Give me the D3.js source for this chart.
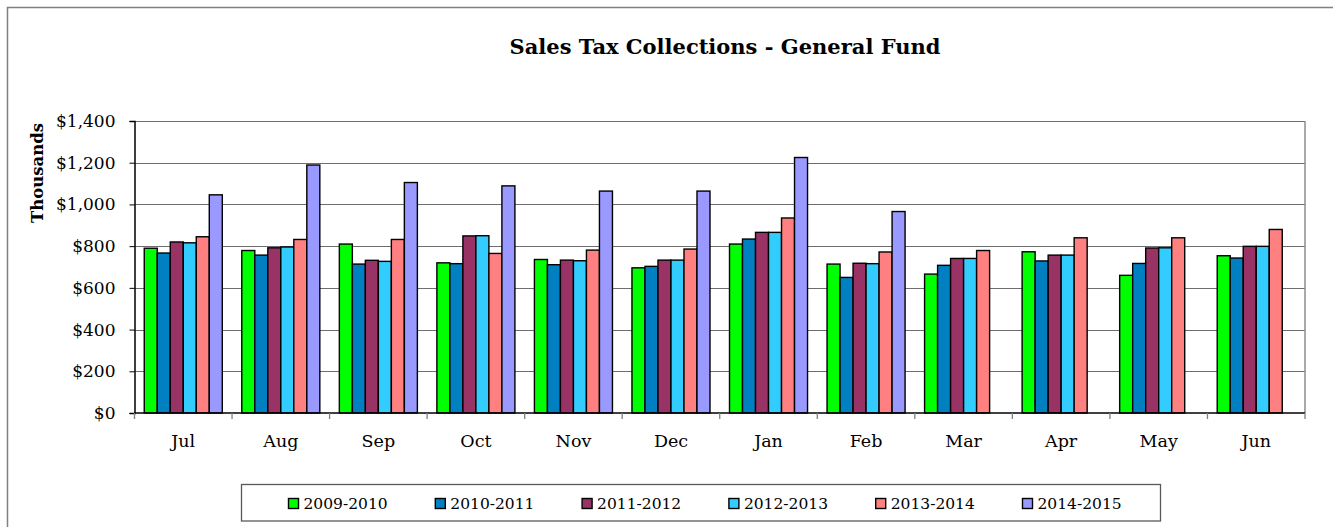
<!DOCTYPE html>
<html>
<head>
<meta charset="utf-8">
<script src="https://cdn.jsdelivr.net/npm/d3@7"></script>
<style>
  html, body { margin: 0; padding: 0; background: #fff; }
  svg { display: block; }
  text { font-family: "DejaVu Serif", "Liberation Serif", serif; fill: #000; }
</style>
</head>
<body>
<svg id="chart" width="1333" height="527"></svg>
<script>
const months = ["Jul","Aug","Sep","Oct","Nov","Dec","Jan","Feb","Mar","Apr","May","Jun"];
const seriesNames = ["2009-2010","2010-2011","2011-2012","2012-2013","2013-2014","2014-2015"];
const s2009 = [790,779,810,720,736,696,810,714,666,773,660,754];
const s2010 = [767,757,714,716,711,703,834,650,708,729,717,743];
const s2011 = [820,792,732,849,733,733,866,718,741,757,791,799];
const s2012 = [816,796,727,850,730,733,866,716,741,757,792,799];
const s2013 = [845,832,832,765,781,786,935,772,779,840,840,880];
const s2014 = [1046,1189,1105,1089,1064,1064,1225,966,null,null,null,null];
const yTicks = [0,200,400,600,800,1000,1200,1400];
const colors = ["#00FF00","#0080C0","#993366","#33CCFF","#FF8080","#9999FF"];

const seriesValues = [s2009,s2010,s2011,s2012,s2013,s2014];
const svg = d3.select("#chart");

// outer frame (left and top visible)
svg.append("path")
  .attr("d","M7.5,527 L7.5,7.5 L1333,7.5")
  .attr("fill","none").attr("stroke","#808080").attr("stroke-width",1.5);

const plot = {left:134.5, right:1305, top:121, bottom:413};

const x = d3.scaleBand().domain(months).range([plot.left, plot.right]).padding(0);
const xi = d3.scaleBand().domain(seriesNames).range([0, x.bandwidth()]).paddingInner(0).paddingOuter(0.75);
const y = d3.scaleLinear().domain([0,1400]).range([plot.bottom, plot.top]);

// gridlines
svg.append("g").selectAll("line").data(yTicks.filter(d=>d>0)).join("line")
  .attr("x1", plot.left).attr("x2", plot.right)
  .attr("y1", d=>Math.round(y(d))+0.5).attr("y2", d=>Math.round(y(d))+0.5)
  .attr("stroke","#6e6e6e").attr("stroke-width",1.2);

// right border of plot area
svg.append("line")
  .attr("x1", plot.right).attr("x2", plot.right)
  .attr("y1", plot.top).attr("y2", plot.bottom)
  .attr("stroke","#8c8c8c").attr("stroke-width",1.5);

// bars
const data = [];
months.forEach((m,i)=>{
  seriesNames.forEach((s,j)=>{
    const v = seriesValues[j][i];
    if (v != null) data.push({m, s, v, j});
  });
});
svg.append("g").selectAll("rect").data(data).join("rect")
  .attr("x", d=>x(d.m)+xi(d.s))
  .attr("width", xi.bandwidth())
  .attr("y", d=>y(d.v))
  .attr("height", d=>y(0)-y(d.v))
  .attr("fill", d=>colors[d.j])
  .attr("stroke","#000").attr("stroke-width",1.4);

// y axis
const yAxis = d3.axisLeft(y).tickValues(yTicks).tickSize(5).tickPadding(14)
  .tickFormat(d=>"$"+d3.format(",")(d));
const gy = svg.append("g").attr("transform",`translate(${plot.left},0)`).call(yAxis);
gy.select(".domain").attr("stroke","#000").attr("stroke-width",1.5);
gy.selectAll(".tick line").attr("stroke","#000");
gy.selectAll(".tick text").attr("font-size",17).attr("font-family","DejaVu Serif").attr("fill","#000");

// x axis
const gx = svg.append("g").attr("transform",`translate(0,${plot.bottom})`);
gx.append("line").attr("x1",plot.left).attr("x2",plot.right).attr("y1",0).attr("y2",0)
  .attr("stroke","#000").attr("stroke-width",1.5);
const bounds = months.map(m=>x(m)).concat([plot.right]);
gx.selectAll("line.t").data(bounds).join("line").attr("class","t")
  .attr("x1",d=>d).attr("x2",d=>d).attr("y1",0).attr("y2",6)
  .attr("stroke","#808080").attr("stroke-width",1.3);
gx.selectAll("text").data(months).join("text")
  .attr("x", d=>x(d)+x.bandwidth()/2)
  .attr("y", 34)
  .attr("text-anchor","middle")
  .attr("font-size",17.5)
  .text(d=>d);

// y axis title
svg.append("text")
  .attr("transform","translate(43,173) rotate(-90)")
  .attr("text-anchor","middle")
  .attr("font-weight","bold")
  .attr("font-size",16.5)
  .text("Thousands");

// title
svg.append("text")
  .attr("x",725).attr("y",54)
  .attr("text-anchor","middle")
  .attr("font-weight","bold")
  .attr("font-size",21)
  .text("Sales Tax Collections - General Fund");

// legend
svg.append("rect")
  .attr("x",241.5).attr("y",484.5).attr("width",919).attr("height",36.5)
  .attr("fill","#fff").attr("stroke","#595959").attr("stroke-width",1.3);
const lg = svg.append("g").selectAll("g").data(seriesNames).join("g")
  .attr("transform",(d,i)=>`translate(${288.5 + i*146.8},0)`);
lg.append("rect").attr("x",0).attr("y",498.5).attr("width",10).attr("height",10)
  .attr("fill",(d,i)=>colors[i]).attr("stroke","#000").attr("stroke-width",1.4);
lg.append("text").attr("x",15).attr("y",509).attr("font-size",15.5).text(d=>d);
</script>
</body>
</html>
